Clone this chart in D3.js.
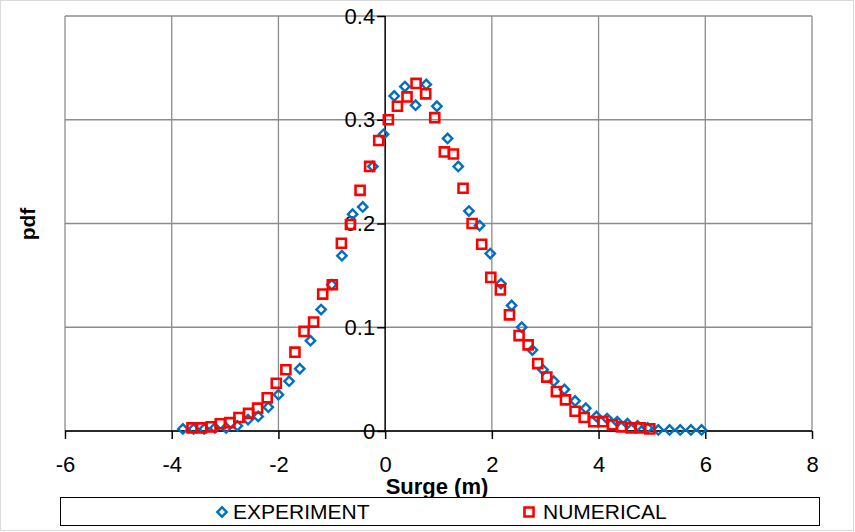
<!DOCTYPE html>
<html>
<head>
<meta charset="utf-8">
<script src="https://cdn.jsdelivr.net/npm/d3@7"></script>
<style>
  body { margin: 0; background: #fff; }
  svg { display: block; font-family: 'Liberation Sans', Arial, sans-serif; }
</style>
</head>
<body>
<div id="chart"></div>
<script>
const width = 855, height = 532;

// experiment (blue diamonds)
const expX = [-3.79, -3.59, -3.39, -3.19, -2.98, -2.77, -2.57, -2.38, -2.19, -2.00,
  -1.80, -1.60, -1.40, -1.20, -1.00, -0.81, -0.61, -0.42, -0.23, -0.03,
  0.17, 0.37, 0.57, 0.77, 0.97, 1.17, 1.37, 1.57, 1.77, 1.97,
  2.17, 2.37, 2.56, 2.76, 2.96, 3.16, 3.36, 3.56, 3.76, 3.96,
  4.16, 4.35, 4.54, 4.73, 4.92, 5.12, 5.33, 5.53, 5.73, 5.93];
const expY = [0.002, 0.002, 0.002, 0.003, 0.003, 0.005, 0.011, 0.014, 0.023, 0.035,
  0.048, 0.060, 0.087, 0.117, 0.141, 0.169, 0.209, 0.216, 0.255, 0.286,
  0.323, 0.332, 0.314, 0.334, 0.313, 0.282, 0.255, 0.212, 0.198, 0.171,
  0.142, 0.121, 0.100, 0.078, 0.059, 0.048, 0.040, 0.029, 0.022, 0.014,
  0.012, 0.009, 0.007, 0.005, 0.003, 0.001, 0.001, 0.001, 0.001, 0.001];

// numerical (red squares)
const numX = [-3.62, -3.44, -3.26, -3.09, -2.91, -2.74, -2.56, -2.39, -2.21, -2.04,
  -1.86, -1.69, -1.52, -1.34, -1.17, -0.99, -0.82, -0.65, -0.47, -0.29,
  -0.12, 0.06, 0.23, 0.41, 0.58, 0.76, 0.93, 1.11, 1.28, 1.46,
  1.63, 1.81, 1.98, 2.16, 2.33, 2.51, 2.68, 2.86, 3.03, 3.21,
  3.38, 3.56, 3.73, 3.91, 4.08, 4.26, 4.43, 4.61, 4.78, 4.96];
const numY = [0.003, 0.003, 0.004, 0.007, 0.008, 0.013, 0.017, 0.022, 0.032, 0.046,
  0.059, 0.076, 0.096, 0.105, 0.132, 0.141, 0.181, 0.199, 0.232, 0.255,
  0.280, 0.300, 0.313, 0.322, 0.335, 0.325, 0.302, 0.269, 0.267, 0.234,
  0.200, 0.180, 0.148, 0.136, 0.112, 0.092, 0.083, 0.065, 0.052, 0.038,
  0.030, 0.019, 0.013, 0.009, 0.009, 0.006, 0.004, 0.003, 0.003, 0.002];

const xTicks = [-6, -4, -2, 0, 2, 4, 6, 8];
const yTicks = [0, 0.1, 0.2, 0.3, 0.4];

const x = d3.scaleLinear().domain([-6, 8]).range([65, 812]);
const y = d3.scaleLinear().domain([0, 0.4]).range([431, 16]);

const svg = d3.select('#chart').append('svg')
  .attr('width', width)
  .attr('height', height);

// outer frame
svg.append('rect')
  .attr('x', 0.5).attr('y', 0.5)
  .attr('width', width - 2).attr('height', height - 2)
  .attr('fill', '#fff').attr('stroke', '#d9d9d9');

// grid
svg.append('g').selectAll('line')
  .data(yTicks).enter().append('line')
  .attr('x1', x(-6)).attr('x2', x(8))
  .attr('y1', d => y(d)).attr('y2', d => y(d))
  .attr('stroke', '#8c8c8c').attr('stroke-width', 1.3);

svg.append('g').selectAll('line')
  .data(xTicks.filter(d => d !== 0)).enter().append('line')
  .attr('x1', d => x(d)).attr('x2', d => x(d))
  .attr('y1', y(0)).attr('y2', y(0.4))
  .attr('stroke', '#8c8c8c').attr('stroke-width', 1.3);

// x axis at y=0
const xAxis = svg.append('g')
  .attr('transform', 'translate(0,' + y(0) + ')')
  .call(d3.axisBottom(x).tickValues(xTicks).tickSize(8).tickPadding(17)
    .tickFormat(d => d < 0 ? '-' + Math.abs(d) : d));

// y axis at x=0
const yAxis = svg.append('g')
  .attr('transform', 'translate(' + x(0) + ',0)')
  .call(d3.axisLeft(y).tickValues(yTicks).tickSize(8).tickPadding(2)
    .tickFormat(d => d === 0 ? '0' : d3.format('.1f')(d)));

[xAxis, yAxis].forEach(g => {
  g.select('.domain').attr('stroke', '#000').attr('stroke-width', 1.5);
  g.selectAll('.tick line').attr('stroke', '#000').attr('stroke-width', 1.5);
  g.selectAll('.tick text')
    .attr('fill', '#000')
    .style('font-size', '22px')
    .style('font-family', "'Liberation Sans', Arial, sans-serif");
});
xAxis.select('.domain').attr('d', 'M' + x(-6) + ',0H' + x(8));
yAxis.select('.domain').attr('d', 'M0,' + y(0) + 'V' + y(0.4));

// axis titles
svg.append('text')
  .attr('x', 437).attr('y', 494)
  .attr('text-anchor', 'middle')
  .style('font-size', '22px').style('font-weight', 'bold')
  .text('Surge (m)');

svg.append('text')
  .attr('transform', 'translate(35,224) rotate(-90)')
  .attr('text-anchor', 'middle')
  .style('font-size', '21px').style('font-weight', 'bold')
  .text('pdf');

const diamond = d3.symbol().type(d3.symbolSquare).size(44);
const square = d3.symbol().type(d3.symbolSquare).size(82);

// experiment
svg.append('g').selectAll('path')
  .data(expX.map((d, i) => [d, expY[i]])).enter().append('path')
  .attr('d', diamond)
  .attr('transform', d => 'translate(' + x(d[0]) + ',' + y(d[1]) + ') rotate(45)')
  .attr('fill', 'none').attr('stroke', '#0070c0').attr('stroke-width', 2.4);

// numerical
svg.append('g').selectAll('path')
  .data(numX.map((d, i) => [d, numY[i]])).enter().append('path')
  .attr('d', square)
  .attr('transform', d => 'translate(' + x(d[0]) + ',' + y(d[1]) + ')')
  .attr('fill', 'none').attr('stroke', '#ff0000').attr('stroke-width', 2.6);

// legend
const legend = svg.append('g');
legend.append('rect')
  .attr('x', 60.5).attr('y', 497.5).attr('width', 759).attr('height', 28)
  .attr('fill', '#fff').attr('stroke', '#000').attr('stroke-width', 1);

legend.append('path')
  .attr('d', diamond)
  .attr('transform', 'translate(222,512) rotate(45)')
  .attr('fill', 'none').attr('stroke', '#0070c0').attr('stroke-width', 2.4);
legend.append('text')
  .attr('x', 233).attr('y', 519)
  .style('font-size', '21px')
  .text('EXPERIMENT');

legend.append('path')
  .attr('d', square)
  .attr('transform', 'translate(529,512)')
  .attr('fill', 'none').attr('stroke', '#ff0000').attr('stroke-width', 2.6);
legend.append('text')
  .attr('x', 543).attr('y', 519)
  .style('font-size', '21px')
  .text('NUMERICAL');
</script>
</body>
</html>
